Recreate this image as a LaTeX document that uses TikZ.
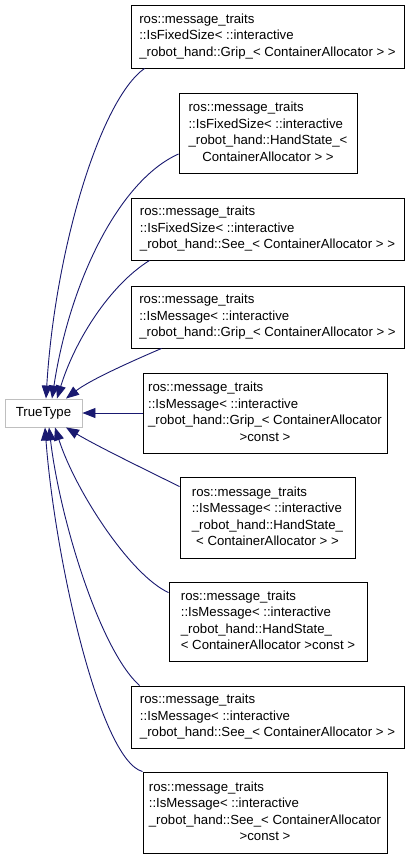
\documentclass[tikz,border=0pt]{standalone}
\usepackage{fontspec}
\setmainfont{Liberation Sans}
\usetikzlibrary{arrows.meta}
\definecolor{edgeblue}{HTML}{191970}
\definecolor{ttgray}{HTML}{BFBFBF}
\newcommand{\lbl}[1]{\begin{tabular}{@{}l@{}}#1\end{tabular}}
\newcommand{\cl}[1]{\multicolumn{1}{@{}c@{}}{#1}}
\begin{document}
\begin{tikzpicture}[x=1pt,y=-1pt,
  cls/.style={draw=black,line width=0.9pt,fill=white,inner sep=0pt,
    font=\fontsize{13.2}{16.5}\selectfont},
  ttbox/.style={draw=ttgray,line width=0.9pt,fill=white,inner sep=0pt,
    minimum width=77pt,minimum height=28pt,font=\fontsize{13.2}{16.5}\selectfont},
  inh/.style={draw=edgeblue,line width=0.9pt,-{Triangle[length=13pt,width=10pt]}}]
\useasboundingbox (0,0) rectangle (411,859);
\fill[white] (0,0) rectangle (411,859);

\node[ttbox] (tt) at (43.5,413) {TrueType};

\node[cls,minimum width=273pt,minimum height=63pt] (b1) at (267.5,36.5)
  {\lbl{ros::message\_traits\\::IsFixedSize< ::interactive\\\_robot\_hand::Grip\_< ContainerAllocator > >}};
\node[cls,minimum width=178pt,minimum height=80pt] (b2) at (268,133)
  {\lbl{ros::message\_traits\\::IsFixedSize< ::interactive\\\_robot\_hand::HandState\_<\\\cl{ContainerAllocator > >}}};
\node[cls,minimum width=273pt,minimum height=62pt] (b3) at (267.5,229)
  {\lbl{ros::message\_traits\\::IsFixedSize< ::interactive\\\_robot\_hand::See\_< ContainerAllocator > >}};
\node[cls,minimum width=273pt,minimum height=62pt] (b4) at (267.5,317)
  {\lbl{ros::message\_traits\\::IsMessage< ::interactive\\\_robot\_hand::Grip\_< ContainerAllocator > >}};
\node[cls,minimum width=244pt,minimum height=80pt] (b5) at (265,413)
  {\lbl{ros::message\_traits\\::IsMessage< ::interactive\\\_robot\_hand::Grip\_< ContainerAllocator\\\cl{>const >}}};
\node[cls,minimum width=175pt,minimum height=81pt] (b6) at (267.5,517.5)
  {\lbl{ros::message\_traits\\::IsMessage< ::interactive\\\_robot\_hand::HandState\_\\\cl{< ContainerAllocator > >}}};
\node[cls,minimum width=198pt,minimum height=79pt] (b7) at (268,621.5)
  {\lbl{ros::message\_traits\\::IsMessage< ::interactive\\\_robot\_hand::HandState\_\\\cl{< ContainerAllocator >const >}}};
\node[cls,minimum width=273pt,minimum height=62pt] (b8) at (267.5,717)
  {\lbl{ros::message\_traits\\::IsMessage< ::interactive\\\_robot\_hand::See\_< ContainerAllocator > >}};
\node[cls,minimum width=244pt,minimum height=81pt] (b9) at (265,812.5)
  {\lbl{ros::message\_traits\\::IsMessage< ::interactive\\\_robot\_hand::See\_< ContainerAllocator\\\cl{>const >}}};

\draw[inh] ([xshift=14pt]b1.south west) .. controls (100,100) and (55,250) .. ([xshift=2.5pt]tt.north);
\draw[inh] ([yshift=-21pt]b2.west) .. controls (120,180) and (70,280) .. ([xshift=8.5pt]tt.north);
\draw[inh] ([xshift=19pt]b3.south west) .. controls (110,285) and (75,340) .. ([xshift=13.5pt]tt.north);
\draw[inh] ([xshift=31pt]b4.south west) .. controls (130,362) and (90,380) .. ([xshift=22.5pt]tt.north);
\draw[inh] (b5.west) -- (tt.east);
\draw[inh] ([yshift=-10pt]b6.north west) .. controls (140,467) and (95,445) .. ([xshift=22.5pt]tt.south);
\draw[inh] ([yshift=-11pt]b7.north west) .. controls (130,575) and (75,490) .. ([xshift=11.5pt]tt.south);
\draw[inh] ([xshift=9pt]b8.north west) .. controls (100,650) and (60,520) .. ([xshift=5.5pt]tt.south);
\draw[inh] (b9.north west) .. controls (100,760) and (55,560) .. ([xshift=1.5pt]tt.south);
\end{tikzpicture}
\end{document}
